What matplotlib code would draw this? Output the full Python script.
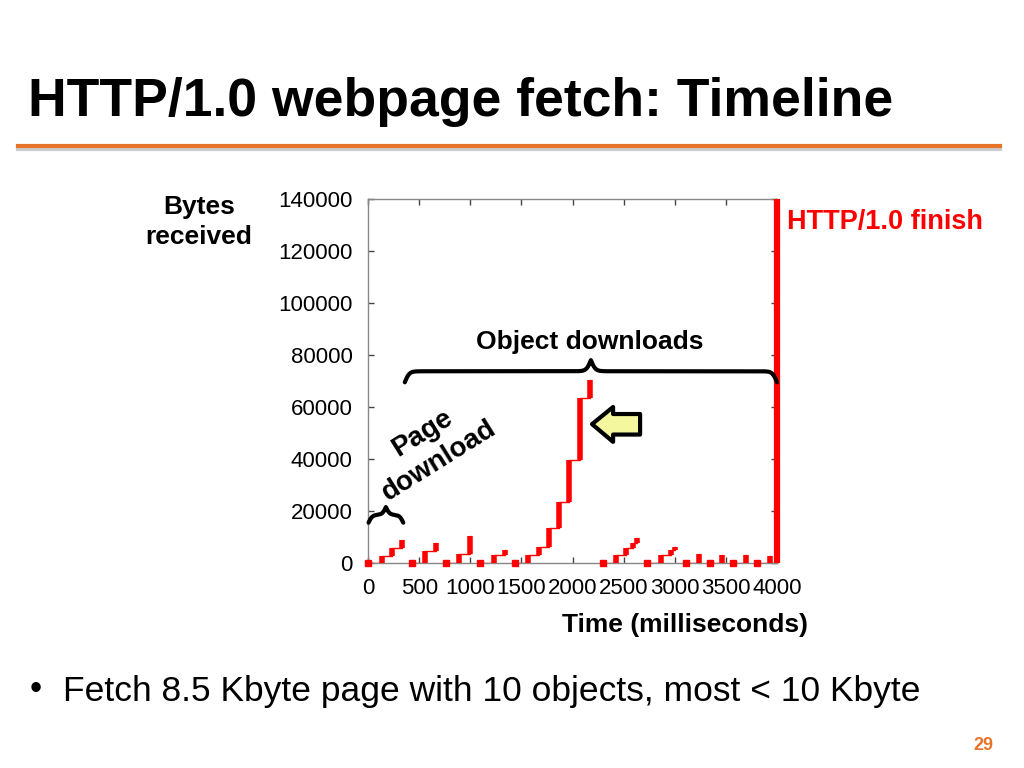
import numpy as np
from matplotlib import pyplot as plt
from matplotlib.lines import Line2D
from matplotlib.patches import Polygon

plt.rcParams['font.family'] = ['Liberation Sans', 'DejaVu Sans']

# one list per TCP connection: time (ms) of each burst, cumulative bytes after it
page_times = [0, 134, 232, 336]
page_bytes = [0, 2800, 5800, 8700]

object_times = [
    [427, 555, 665],
    [763, 894, 995],
    [1096, 1233, 1340],
    [1438, 1562, 1676, 1774, 1872, 1970, 2074, 2172],
    [2296, 2427, 2521, 2596, 2635],
    [2727, 2867, 2962, 3004],
    [3111, 3236],
    [3340, 3464],
    [3568, 3695],
    [3803, 3927],
]
object_bytes = [
    [0, 4700, 7600],
    [0, 3500, 10300],
    [0, 3100, 5000],
    [0, 3100, 6000, 13500, 23300, 39600, 63300, 70500],
    [0, 3100, 5800, 7700, 9500],
    [0, 3100, 5000, 6300],
    [0, 3600],
    [0, 3100],
    [0, 3100],
    [0, 2800],
]
finish_time = 4000

x_ticks = [0, 500, 1000, 1500, 2000, 2500, 3000, 3500, 4000]
y_ticks = [0, 20000, 40000, 60000, 80000, 100000, 120000, 140000]

red = '#ff0000'
orange = '#e8742a'

fig = plt.figure(figsize=(10.24, 7.68), dpi=100)
ax = fig.add_axes([368/1024, 1-563/768, 409/1024, 364/768])


def draw_connection(t, b):
    t = np.array(t)
    b = np.array(b)
    ax.step(t, b, where='post', color=red, lw=1, zorder=3)
    ax.vlines(t[1:], b[:-1], b[1:], color=red, lw=4, zorder=3)
    ax.plot(t[0], b[0], 's', color=red, ms=4.5, clip_on=False, zorder=4)


draw_connection(page_times, page_bytes)
for t, b in zip(object_times, object_bytes):
    draw_connection(t, b)

ax.axvline(finish_time, color=red, lw=4.5, zorder=5, clip_on=False,
           solid_capstyle='butt')

ax.set_xlim(0, 4000)
ax.set_ylim(0, 140000)
ax.set_xticks(x_ticks)
ax.set_yticks(y_ticks)
ax.tick_params(direction='in', top=True, right=True, length=4, color='#444444',
               labelsize=16, width=1)
ax.tick_params(axis='y', pad=11)
ax.tick_params(axis='x', pad=11)
for s in ax.spines.values():
    s.set_color('#888888')
    s.set_linewidth(1)


def brace(x0, x1, y0, h, beta):
    xs = np.linspace(0, (x1 - x0) / 2, 200)
    yh = 1/(1 + np.exp(-beta*(xs - xs[0]))) + 1/(1 + np.exp(-beta*(xs - xs[-1])))
    x = np.concatenate([x0 + xs, x0 + (x1 - x0) - xs[::-1]])
    y = np.concatenate([yh, yh[::-1]])
    ax.plot(x, y0 + (y - 0.5) * h, color='black', lw=3, clip_on=False, zorder=6,
            solid_capstyle='round')


brace(5, 345, 15500, 6000, 0.055)
brace(360, 4000, 69500, 8500, 0.045)

arrow = Polygon([[2191, 53400], [2397, 60000], [2397, 57300], [2661, 57300],
                 [2661, 49400], [2397, 49400], [2397, 46600]],
                closed=True, facecolor='#f5f79e', edgecolor='black', lw=3,
                joinstyle='round', zorder=6)
ax.add_patch(arrow)

ax.text(2170, 85000, 'Object downloads', ha='center', va='center',
        fontsize=19, fontweight='bold')
ax.text(610, 44500, 'Page\ndownload', ha='center', va='center', rotation=32,
        fontsize=20, fontweight='bold', linespacing=1.3)

# slide furniture
fig.text(28/1024, 1-102/768, 'HTTP/1.0 webpage fetch: Timeline', ha='left', va='center',
         fontsize=38.5, fontweight='bold')
fig.add_artist(Line2D([18/1024, 1000/1024], [1-149/768, 1-149/768], color='#cccccc', lw=3))
fig.add_artist(Line2D([18/1024, 1000/1024], [1-146/768, 1-146/768], color=orange, lw=3))

fig.text(199/1024, 1-222/768, 'Bytes\nreceived', ha='center', va='center',
         fontsize=19, fontweight='bold', linespacing=1.35)
fig.text(685/1024, 1-625/768, 'Time (milliseconds)', ha='center', va='center',
         fontsize=19, fontweight='bold')
fig.text(787/1024, 1-222/768, 'HTTP/1.0 finish', ha='left', va='center',
         fontsize=19.5, fontweight='bold', color=red)

fig.text(30/1024, 1-689/768, '\u2022', ha='left', va='center', fontsize=25)
fig.text(63/1024, 1-692/768, 'Fetch 8.5 Kbyte page with 10 objects, most < 10 Kbyte',
         ha='left', va='center', fontsize=25.5)
fig.text(983/1024, 1-746/768, '29', ha='center', va='center', fontsize=13,
         fontweight='bold', color=orange)

fig.savefig('out.png', dpi=100)
